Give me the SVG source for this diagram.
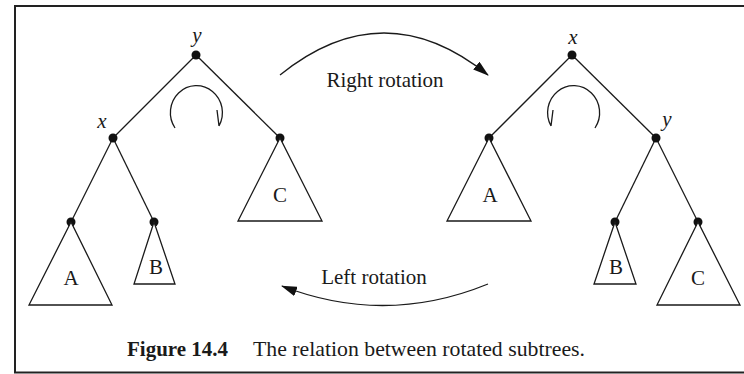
<svg xmlns="http://www.w3.org/2000/svg" width="744" height="374" viewBox="0 0 744 374">
<style>
.e{stroke:#1a1a1a;stroke-width:1.3;fill:none}
.dot{fill:#111}
.tri{fill:#fff;stroke:#1a1a1a;stroke-width:1.3}
.t{font-family:"Liberation Serif","Times New Roman",serif;font-size:21px;fill:#1a1a1a;text-anchor:middle}
.it{font-style:italic}
.cap{font-family:"Liberation Serif","Times New Roman",serif;font-size:21px;fill:#1a1a1a}
</style>
<defs>
<marker id="ah" markerWidth="16" markerHeight="10" refX="15" refY="5" orient="auto" markerUnits="userSpaceOnUse">
<path d="M0,0 L16,5 L0,10 Z" fill="#111"/>
</marker>
</defs>
<rect width="744" height="374" fill="#fff"/>
<path d="M744,6 H15 V372.5 H744" fill="none" stroke="#222" stroke-width="2"/>

<g id="connectors">
<line class="e" x1="196" y1="55" x2="113" y2="138"/>
<line class="e" x1="196" y1="55" x2="280" y2="138"/>
<line class="e" x1="113" y1="138" x2="71" y2="222"/>
<line class="e" x1="113" y1="138" x2="154" y2="222"/>
<line class="e" x1="572" y1="55" x2="489" y2="138"/>
<line class="e" x1="572" y1="55" x2="656" y2="138"/>
<line class="e" x1="656" y1="138" x2="615" y2="222"/>
<line class="e" x1="656" y1="138" x2="698" y2="222"/>
<path class="e" d="M280,75 Q384,-9 488,75" marker-end="url(#ah)"/>
<path class="e" d="M488,284 Q385,326 282,286" marker-end="url(#ah)"/>
<path class="e" d="M175,128 A26,27 0 1 1 219,126 M217,110 L219,126"/>
<path class="e" d="M595,128 A26,27 0 1 0 551,126 M553,110 L551,126"/>
</g>

<g id="left-y"><circle class="dot" cx="196" cy="55" r="4.5"/><text class="t it" x="197" y="42">y</text></g>
<g id="left-x"><circle class="dot" cx="113" cy="138" r="4.5"/><text class="t it" x="102" y="128">x</text></g>
<g id="left-A"><circle class="dot" cx="71" cy="222" r="4.5"/><polygon class="tri" points="71,222 29,305 112,305"/><text class="t" x="71" y="285">A</text></g>
<g id="left-B"><circle class="dot" cx="154" cy="222" r="4.5"/><polygon class="tri" points="154,222 134,284 175,284"/><text class="t" x="156" y="274">B</text></g>
<g id="left-C"><circle class="dot" cx="280" cy="138" r="4.5"/><polygon class="tri" points="280,138 238,221 322,221"/><text class="t" x="280" y="202">C</text></g>

<g id="right-x"><circle class="dot" cx="572" cy="55" r="4.5"/><text class="t it" x="573" y="44">x</text></g>
<g id="right-y"><circle class="dot" cx="656" cy="138" r="4.5"/><text class="t it" x="667" y="126">y</text></g>
<g id="right-A"><circle class="dot" cx="489" cy="138" r="4.5"/><polygon class="tri" points="489,138 447,221 531,221"/><text class="t" x="490" y="202">A</text></g>
<g id="right-B"><circle class="dot" cx="615" cy="222" r="4.5"/><polygon class="tri" points="615,222 594,284 636,284"/><text class="t" x="616" y="274">B</text></g>
<g id="right-C"><circle class="dot" cx="698" cy="222" r="4.5"/><polygon class="tri" points="698,222 657,305 740,305"/><text class="t" x="698" y="285">C</text></g>

<g id="labels">
<text class="t" x="385" y="87">Right rotation</text>
<text class="t" x="374" y="284">Left rotation</text>
</g>
<g id="caption">
<text class="cap" x="127" y="356" font-weight="bold" textLength="101" lengthAdjust="spacingAndGlyphs">Figure 14.4</text>
<text class="cap" x="253" y="356" textLength="332" lengthAdjust="spacingAndGlyphs">The relation between rotated subtrees.</text>
</g>
</svg>
